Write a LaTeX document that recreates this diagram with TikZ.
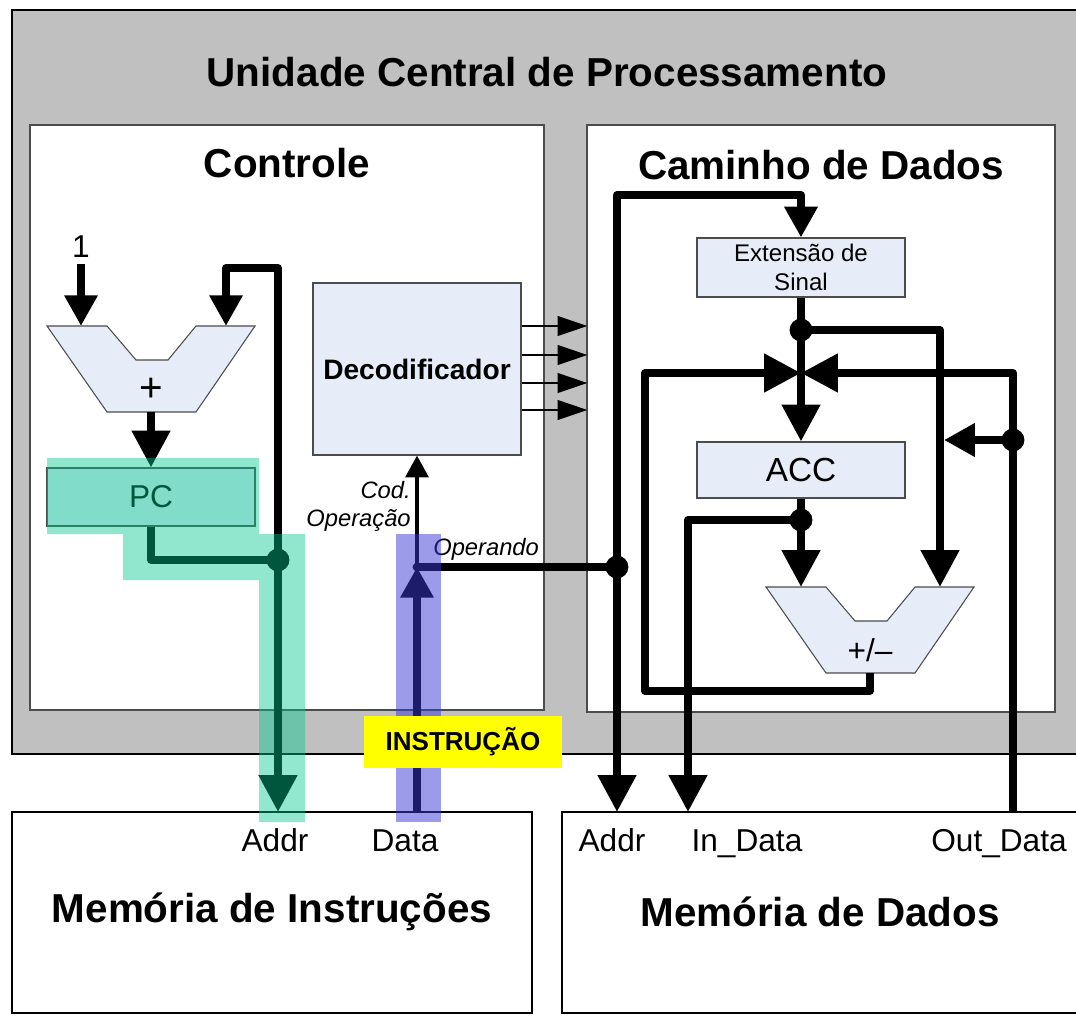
\documentclass[tikz,border=0pt]{standalone}
\usepackage{fontspec}
\setmainfont{Liberation Sans}
\usetikzlibrary{arrows.meta}
\definecolor{cpugray}{RGB}{192,192,192}
\definecolor{unitblue}{RGB}{230,236,248}
\definecolor{pcteal}{RGB}{0,201,143}
\definecolor{instblue}{RGB}{56,56,212}
\definecolor{instyellow}{RGB}{255,255,0}
\tikzset{
  bus/.style={line width=4.6pt,line join=round},
  thinbus/.style={line width=1.7pt,-{Triangle[length=17pt,width=11pt]}},
  bigtip/.style={-{Triangle[length=21pt,width=21pt]}},
  midtip/.style={-{Triangle[length=17.5pt,width=18pt]}},
  unit/.style={draw=black!70,fill=unitblue,line width=.6pt},
  unitbox/.style={unit,minimum width=4.16cm,inner sep=0pt},
  frame/.style={draw=black!70,fill=white,line width=.6pt},
  dot/.style={circle,fill,inner sep=0pt,minimum size=13pt},
  bigtitle/.style={font=\fontsize{23}{27}\selectfont\bfseries},
  port/.style={font=\fontsize{18}{21}\selectfont},
  portlbl/.style={port,anchor=base},
  tag/.style={font=\fontsize{13.5}{16}\selectfont\itshape,inner sep=0pt},
  alushape/.pic={\draw[unit] (0,0) -- (60,0) -- (89,34) -- (121,34) -- (149,0) -- (208,0) -- (149,86) -- (60,86) -- cycle;}
}
\begin{document}
\begin{tikzpicture}[x=.02cm,y=-.02cm]
\useasboundingbox (0,0) rectangle (1076,1017);
% CPU and its two parts
\draw[fill=cpugray,line width=.8pt] (12,10) rectangle (1090,754);
\node[bigtitle] (cpu) at (547,72) {Unidade Central de Processamento};
\draw[frame] (30,125) rectangle (544,710);
\node[bigtitle] (ctrl) at (287,163) {Controle};
\draw[frame] (587,125) rectangle (1055,712);
\node[bigtitle] (dp) at (821,165) {Caminho de Dados};
% memories
\draw[line width=.8pt] (12,812) rectangle (532,1013);\node[bigtitle] (imem) at (272,912) {Memória de Instruções};
\draw[line width=.8pt] (562,812) rectangle (1090,1013);\node[bigtitle] (dmem) at (820,912) {Memória de Dados};
\node[portlbl] (iaddrlbl) at (275,851) {Addr};\node[portlbl] (idatalbl) at (405,851) {Data};
\node[portlbl] (daddrlbl) at (612,851) {Addr};\node[portlbl] (indatalbl) at (747,851) {In\_Data};\node[portlbl] (outdatalbl) at (999,851) {Out\_Data};
% units
\node[unitbox,minimum height=3.44cm,font=\fontsize{16}{19}\selectfont\bfseries] (dec) at (417,369) {Decodificador};
\node[unitbox,minimum height=1.18cm,align=center,font=\fontsize{13.7}{16.4}\selectfont] (ext) at (801,267.5) {Extensão de\\Sinal};
\node[unitbox,minimum height=1.12cm,font=\fontsize{19}{22}\selectfont] (acc) at (801,470) {ACC};
\node[unitbox,minimum height=1.16cm,font=\fontsize{18}{21}\selectfont] (pc) at (151,497) {PC};
\pic at (47,326) {alushape};\node[font=\fontsize{23}{26}\selectfont] (add) at (151,390) {+};
\pic at (766,587) {alushape};\node[port] (alu) at (870,650) {+/\textendash};
% junctions and ports
\coordinate (onein) at (81,326);\coordinate (addin) at (226,326);\coordinate (addout) at (151,412);
\coordinate (iaddr) at (278,812);\coordinate (idata) at (417,812);\coordinate (daddr) at (617,812);
\coordinate (indata) at (688,812);\coordinate (outdata) at (1013,812);
\coordinate (cross) at (801,373);\coordinate (alua) at (801,587);\coordinate (alub) at (940,587);\coordinate (aluout) at (870,673);
\node[dot] (jpc) at (278,560) {};\node[dot,minimum size=5pt] (jinst) at (417,567) {};\node[dot] (jop) at (617,567) {};
\node[dot] (jext) at (801,330) {};\node[dot] (jout) at (1013,440) {};\node[dot] (jacc) at (801,520) {};
% control
\node[port] (one) at (81,247) {1};
\draw[bus,midtip] (one) -- (onein);
\draw[bus,bigtip] (addout) -- (pc.north);
\draw[bus] (pc.south) |- (jpc.center);
\draw[bus,bigtip] (jpc.center) -- (iaddr);
\draw[bus,midtip] (jpc.center) -- ++(0,-292) -| (addin);
\draw[bus,midtip] (idata) -- (jinst.center);
\draw[line width=2.3pt,-{Triangle[length=12.5pt,width=13pt]}] (jinst.center) -- (dec.south);
\node[tag,anchor=east,align=right] (opcode) at (411,506) {Cod.\\Operação};
\node[tag,anchor=west] (operand) at (433,549) {Operando};
\foreach \y in {326,355,383,410}{\path (0,\y) coordinate (yy);\draw[thinbus] (dec.east |- yy) -- ++(66,0);}
% data path
\draw[bus] (jinst.center) -- (jop.center);
\draw[bus,bigtip] (jop.center) -- (daddr);
\draw[bus,midtip] (jop.center) -- ++(0,-372) -| (ext.north);
\draw[bus] (ext.south) -- (jext.center);
\draw[bus,bigtip] (jext.center) -- (acc.north);
\draw[bus,bigtip] (jext.center) -| (alub);
\draw[bus,bigtip] (aluout) -- ++(0,18) -| ++(-225,-318) -- (cross);
\draw[bus,bigtip] (outdata) |- (cross);
\draw[bus,midtip] (jout.center) -- ++(-69,0);
\draw[bus] (acc.south) -- (jacc.center);
\draw[bus,bigtip] (jacc.center) -- (alua);
\draw[bus,bigtip] (jacc.center) -| (indata);
% highlights
\fill[pcteal,opacity=.43] (47,458) -- (259,458) -- (259,534) -- (305,534) -- (305,822) -- (259,822) -- (259,580) -- (123,580) -- (123,534) -- (47,534) -- cycle;
\fill[instblue,opacity=.5] (396,534) rectangle (441,822);
\node[fill=instyellow,minimum width=3.96cm,minimum height=1.04cm,font=\fontsize{14.8}{17}\selectfont\bfseries] (inst) at (463,742) {INSTRUÇÃO};
\end{tikzpicture}
\end{document}
